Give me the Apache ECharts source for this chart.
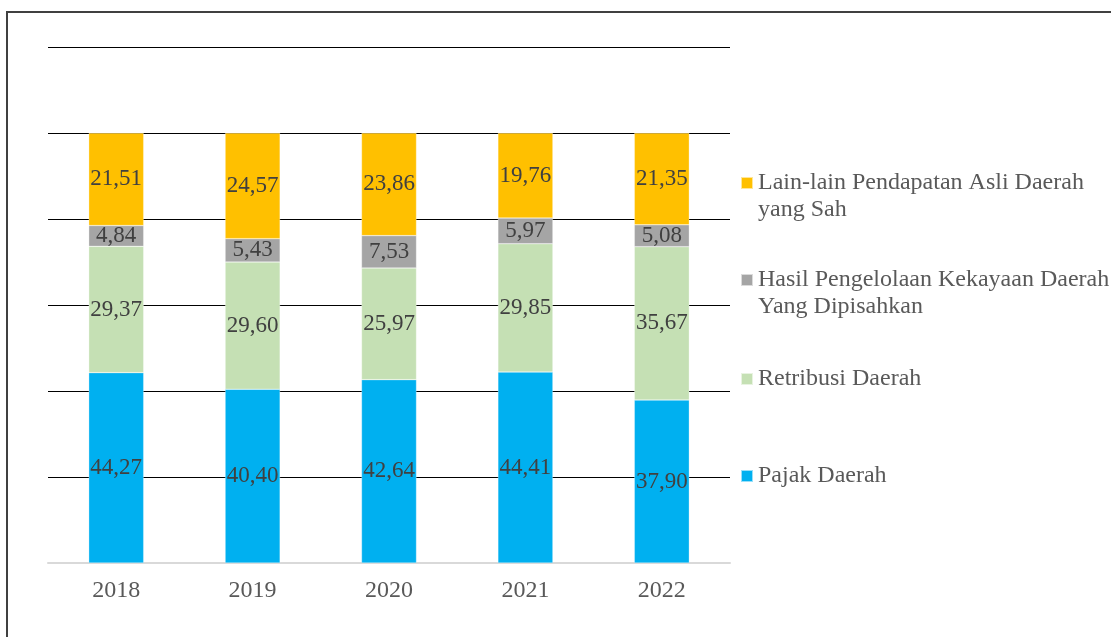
<!DOCTYPE html>
<html>
<head>
<meta charset="utf-8">
<script src="https://cdn.jsdelivr.net/npm/echarts@6/dist/echarts.min.js"></script>
<style>
  html, body { margin: 0; padding: 0; background: #fff; }
  #chart { width: 1111px; height: 637px; }
</style>
</head>
<body>
<div id="chart"></div>
<script>
// data (percent share per year)
const years = ['2018', '2019', '2020', '2021', '2022'];
const pajak = [44.27, 40.40, 42.64, 44.41, 37.90];
const retribusi = [29.37, 29.60, 25.97, 29.85, 35.67];
const hasil = [4.84, 5.43, 7.53, 5.97, 5.08];
const lainLain = [21.51, 24.57, 23.86, 19.76, 21.35];

const names = [
  'Pajak Daerah',
  'Retribusi Daerah',
  'Hasil Pengelolaan Kekayaan Daerah Yang Dipisahkan',
  'Lain-lain Pendapatan Asli Daerah yang Sah'
];
const colors = ['#00B0F0', '#C5E0B4', '#A5A5A5', '#FFC000'];
const values = [pajak, retribusi, hasil, lainLain];

const FONT = '"Liberation Serif", "Times New Roman", serif';

const series = names.map((n, i) => ({
  name: n,
  type: 'bar',
  stack: 'total',
  barWidth: 55,
  data: values[i],
  itemStyle: { color: colors[i], borderColor: 'rgba(255,255,255,0.6)', borderWidth: 0.5 },
  label: {
    show: true,
    position: 'inside',
    color: '#404040',
    fontFamily: FONT,
    fontSize: 23,
    formatter: p => p.value.toFixed(2).replace('.', ',')
  }
}));

// one legend per entry so each sits where the reference puts it;
// two-line names get an empty first line so the marker lines up with line one
const legendPos = [
  { name: names[3], top: 142.5, lines: ['', 'Lain-lain Pendapatan Asli Daerah', 'yang Sah'] },
  { name: names[2], top: 239.5, lines: ['', 'Hasil Pengelolaan Kekayaan Daerah', 'Yang Dipisahkan'] },
  { name: names[1], top: 365.5, lines: null },
  { name: names[0], top: 462.5, lines: null }
];
const legends = legendPos.map(l => ({
  data: [l.name],
  left: 740,
  top: l.top,
  orient: 'vertical',
  padding: 0,
  itemWidth: 12,
  itemHeight: 12,
  itemGap: 0,
  icon: 'rect',
  selectedMode: false,
  formatter: () => l.lines ? l.lines.join('\n') : l.name,
  textStyle: {
    fontFamily: FONT,
    fontSize: 24,
    color: '#595959',
    lineHeight: 27
  }
}));

const chart = echarts.init(document.getElementById('chart'));
chart.setOption({
  animation: false,
  backgroundColor: '#fff',
  grid: { left: 48, right: 381, top: 47, bottom: 74, containLabel: false },
  legend: legends,
  xAxis: {
    type: 'category',
    data: years,
    axisLine: { lineStyle: { color: '#D9D9D9', width: 2 } },
    axisTick: { show: false },
    axisLabel: { color: '#595959', fontFamily: FONT, fontSize: 24, margin: 16 }
  },
  yAxis: {
    type: 'value',
    min: 0,
    max: 120,
    interval: 20,
    axisLabel: { show: false },
    axisLine: { show: false },
    axisTick: { show: false },
    splitLine: { lineStyle: { color: '#000', width: 1.2 } }
  },
  series: series,
  graphic: [{
    type: 'polyline',
    shape: { points: [[7, 637], [7, 12], [1111, 12]] },
    style: { stroke: '#404040', lineWidth: 2, fill: null },
    silent: true
  }]
});
</script>
</body>
</html>
